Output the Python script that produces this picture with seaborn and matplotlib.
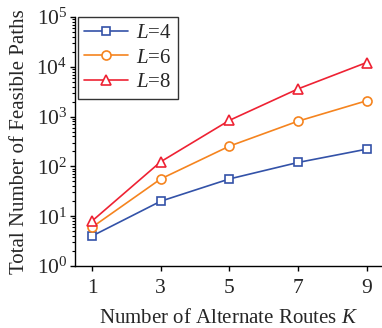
import matplotlib
matplotlib.use("Agg")
import matplotlib.pyplot as plt
import seaborn as sns
import pandas as pd
import numpy as np
from matplotlib.ticker import LogLocator, NullFormatter

K = [1, 3, 5, 7, 9]
L4 = [4, 20, 56, 120, 222]
L6 = [6, 56, 255, 810, 2080]
L8 = [8, 124, 840, 3600, 12200]
labels = ["$L$=4", "$L$=6", "$L$=8"]
colors = ["#3352a8", "#f5841f", "#ee2233"]
markers = ["s", "o", "^"]
msizes = [5.5, 6.5, 7.5]

sns.set_style("ticks")
plt.rcParams["font.family"] = ["Liberation Serif", "DejaVu Serif"]
plt.rcParams["mathtext.fontset"] = "custom"
plt.rcParams["mathtext.rm"] = "Liberation Serif"
plt.rcParams["mathtext.it"] = "Liberation Serif:italic"

df = pd.DataFrame({
    "K": K * 3,
    "value": L4 + L6 + L8,
    "series": [labels[0]] * 5 + [labels[1]] * 5 + [labels[2]] * 5,
})

fig = plt.figure(figsize=(3.82, 3.28), dpi=100)
ax = fig.add_axes([0.196, 0.189, 0.804, 0.759])
for i, lab in enumerate(labels):
    sub = df[df["series"] == lab]
    sns.lineplot(data=sub, x="K", y="value", ax=ax, color=colors[i],
                 marker=markers[i], markersize=msizes[i],
                 markerfacecolor="white", markeredgecolor=colors[i],
                 markeredgewidth=1.2, linewidth=1.2, label=lab)

ax.set_yscale("log")
ax.set_ylim(1, 1e5)
ax.set_xlim(0.5, 9.45)
ax.set_xticks(K)
ax.yaxis.set_major_locator(LogLocator(base=10, numticks=10))
ax.yaxis.set_minor_locator(LogLocator(base=10, subs=np.arange(2, 10), numticks=20))
ax.yaxis.set_minor_formatter(NullFormatter())
ax.tick_params(axis="both", which="major", labelsize=15.5, length=3.5, width=1, color="black")
ax.tick_params(axis="x", which="major", pad=6)
ax.tick_params(axis="y", which="major", pad=2)
ax.tick_params(axis="y", which="minor", length=2.2, width=0.8, color="black")
ax.set_xlabel("Number of Alternate Routes $K$", fontsize=15, labelpad=8)
ax.set_ylabel("Total Number of Feasible Paths", fontsize=15, labelpad=5)
for s in ["left", "bottom"]:
    ax.spines[s].set_color("black")
    ax.spines[s].set_linewidth(1)
sns.despine(ax=ax)

leg = ax.legend(loc="upper left", bbox_to_anchor=(0.01, 1.0), fontsize=15,
                frameon=True, fancybox=False, edgecolor="black",
                handlelength=2.1, handletextpad=0.4, borderpad=0.3,
                labelspacing=0.25, borderaxespad=0.0)
leg.get_frame().set_linewidth(1)

fig.savefig("out.png", dpi=100)
